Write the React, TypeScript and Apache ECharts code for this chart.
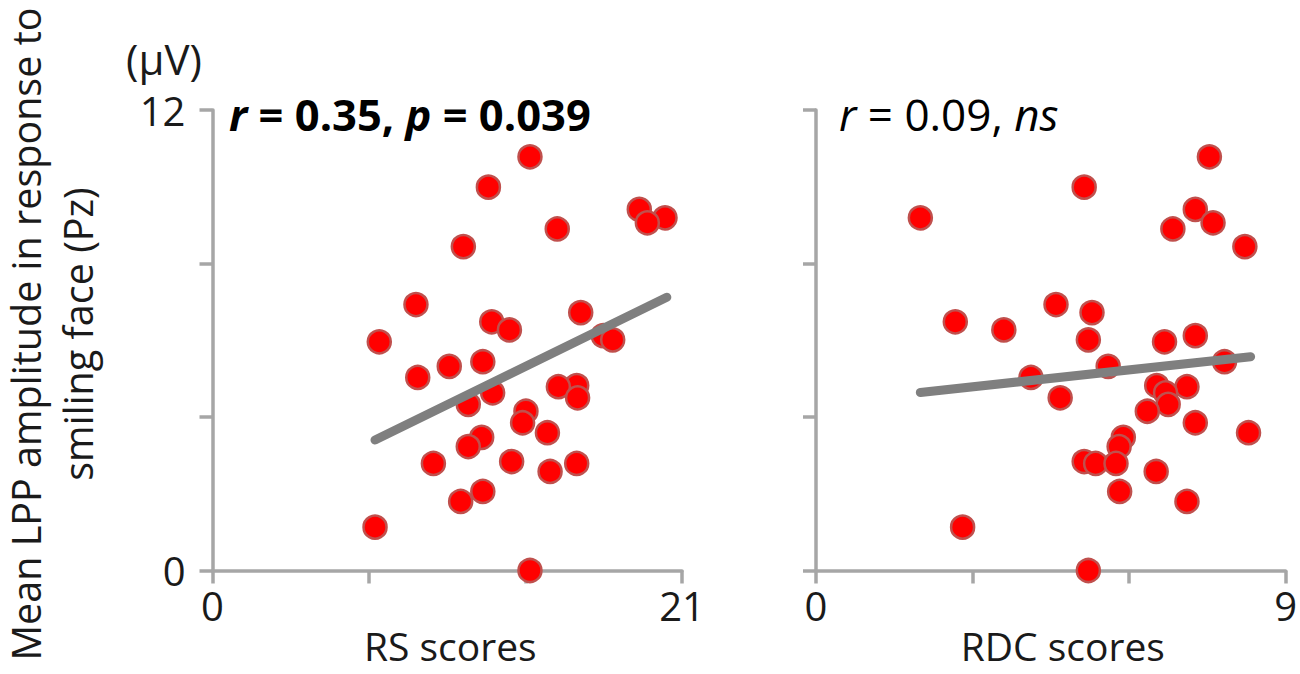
import React, { useEffect, useRef } from "react";
import * as echarts from "echarts";

// LPP amplitude (µV) per participant (shared y values)
const lpp = [10.78, 9.99, 9.41, 9.19, 9.06, 8.9, 8.44, 6.93, 6.72, 6.48, 6.27, 6.12, 6.01, 5.96, 5.44, 5.32, 5.03, 4.82, 4.79, 4.63, 4.5, 4.33, 4.15, 3.85, 3.59, 3.47, 3.23, 2.84, 2.79, 2.79, 2.58, 2.06, 1.8, 1.13, 0.0];
// RS scores (left panel x)
const rsScores = [14.2, 12.34, 19.09, 20.24, 19.45, 15.42, 11.22, 9.1, 16.47, 12.49, 13.28, 17.48, 17.9, 7.46, 12.09, 10.59, 9.18, 16.29, 15.47, 12.53, 16.33, 11.44, 14.02, 13.87, 14.98, 12.04, 11.44, 13.38, 9.88, 16.29, 15.1, 12.09, 11.1, 7.27, 14.2];
// RDC scores (right panel x)
const rdcScores = [7.54, 5.14, 7.27, 2.0, 7.61, 6.84, 8.22, 4.6, 5.29, 2.67, 3.6, 7.27, 5.22, 6.68, 7.83, 5.6, 4.12, 6.53, 7.11, 6.7, 4.68, 6.75, 6.35, 7.27, 8.29, 5.89, 5.81, 5.14, 5.36, 5.75, 6.52, 5.82, 7.11, 2.81, 5.22];
// regression line end points
const trendRS = [[7.27, 3.4], [20.32, 7.12]];
const trendRDC = [[2.0, 4.64], [8.33, 5.57]];

const xTicksRS = [0, 21];
const xTicksRDC = [0, 9];
const yTicks = [0, 12];

const FONT = "Open Sans";
const FS = 39;
const TXT = "#1a1a1a";
const AXIS = "#A6A6A6";

export default function App() {
  const ref = useRef<HTMLDivElement>(null);
  useEffect(() => {
    if (!ref.current) return;
    const chart = echarts.init(ref.current, null, { renderer: "svg" });
    const axisLine = { show: true, lineStyle: { color: AXIS, width: 3.5 } };
    const axisTick = { show: true, length: 13, lineStyle: { color: AXIS, width: 3.5 } };
    const labelStyle = { fontFamily: FONT, fontSize: FS, color: TXT };
    const xAxisBase = (max: number, interval: number, ticks: number[], name: string, pad: number) => ({
      type: "value",
      min: 0,
      max,
      interval,
      axisLine,
      axisTick,
      splitLine: { show: false },
      axisLabel: {
        ...labelStyle,
        fontSize: 40,
        margin: 15,
        showMinLabel: true,
        showMaxLabel: true,
        formatter: (v: number) => (ticks.includes(v) ? String(v) : ""),
      },
      name,
      nameLocation: "middle",
      nameGap: 58,
      nameMoveOverlap: false,
      nameTextStyle: { ...labelStyle, lineHeight: 34, padding: [0, 0, 0, pad] },
    });
    const yAxisBase = (showLabels: boolean) => ({
      type: "value",
      min: 0,
      max: 12,
      interval: 4,
      axisLine,
      axisTick,
      splitLine: { show: false },
      axisLabel: {
        show: showLabels,
        ...labelStyle,
        fontSize: 40,
        margin: 27,
        formatter: (v: number) => (yTicks.includes(v) ? String(v) : ""),
      },
    });
    const marker = {
      color: "#FF0000",
      borderColor: "#C0504D",
      borderWidth: 2.5,
      opacity: 1,
    };
    chart.setOption({
      animation: false,
      grid: [
        { left: 212.5, right: 1300 - 682, top: 110, bottom: 674 - 570.5, containLabel: false },
        { left: 816, right: 1300 - 1287, top: 110, bottom: 674 - 570.5, containLabel: false },
      ],
      xAxis: [
        { ...xAxisBase(21, 7, xTicksRS, "RS scores", 6), gridIndex: 0 },
        { ...xAxisBase(9, 3, xTicksRDC, "RDC scores", 24), gridIndex: 1 },
      ],
      yAxis: [
        { ...yAxisBase(true), gridIndex: 0 },
        { ...yAxisBase(false), gridIndex: 1 },
      ],
      series: [
        {
          type: "scatter",
          xAxisIndex: 0,
          yAxisIndex: 0,
          symbol: "circle",
          symbolSize: 23,
          clip: false,
          itemStyle: marker,
          data: rsScores.map((x, i) => [x, lpp[i]]),
          z: 2,
        },
        {
          type: "line",
          xAxisIndex: 0,
          yAxisIndex: 0,
          showSymbol: false,
          symbol: "none",
          lineStyle: { color: "#7F7F7F", width: 9, cap: "round" },
          data: trendRS,
          z: 3,
        },
        {
          type: "scatter",
          xAxisIndex: 1,
          yAxisIndex: 1,
          symbol: "circle",
          symbolSize: 23,
          clip: false,
          itemStyle: marker,
          data: rdcScores.map((x, i) => [x, lpp[i]]),
          z: 2,
        },
        {
          type: "line",
          xAxisIndex: 1,
          yAxisIndex: 1,
          showSymbol: false,
          symbol: "none",
          lineStyle: { color: "#7F7F7F", width: 9, cap: "round" },
          data: trendRDC,
          z: 3,
        },
      ],
      graphic: [
        {
          type: "text",
          x: 52,
          y: 334,
          rotation: Math.PI / 2,
          style: {
            text: "Mean LPP amplitude in response to\nsmiling face (Pz)",
            fontFamily: FONT,
            fontSize: 39.5,
            lineHeight: 52,
            fill: TXT,
            align: "center",
            verticalAlign: "middle",
          },
        },
        {
          type: "text",
          x: 164,
          y: 58,
          style: {
            text: "(μV)",
            fontFamily: FONT,
            fontSize: 42,
            fill: TXT,
            align: "center",
            verticalAlign: "middle",
          },
        },
        {
          type: "text",
          x: 229,
          y: 114,
          style: {
            text: "{i|r} = 0.35, {i|p} = 0.039",
            fontFamily: FONT,
            fontSize: 43.5,
            fontWeight: "bold",
            fill: "#000",
            align: "left",
            verticalAlign: "middle",
            rich: {
              i: { fontFamily: FONT, fontSize: 43.5, fontWeight: "bold", fontStyle: "italic", fill: "#000" },
            },
          },
        },
        {
          type: "text",
          x: 839,
          y: 114,
          style: {
            text: "{i|r} = 0.09, {i|ns}",
            fontFamily: FONT,
            fontSize: 44,
            fill: "#000",
            align: "left",
            verticalAlign: "middle",
            rich: {
              i: { fontFamily: FONT, fontSize: 44, fontStyle: "italic", fill: "#000" },
            },
          },
        },
      ],
    });
    return () => chart.dispose();
  }, []);
  return (
    <div
      ref={ref}
      style={{ position: "absolute", left: 0, top: 0, width: 1300, height: 674, background: "#fff" }}
    />
  );
}
